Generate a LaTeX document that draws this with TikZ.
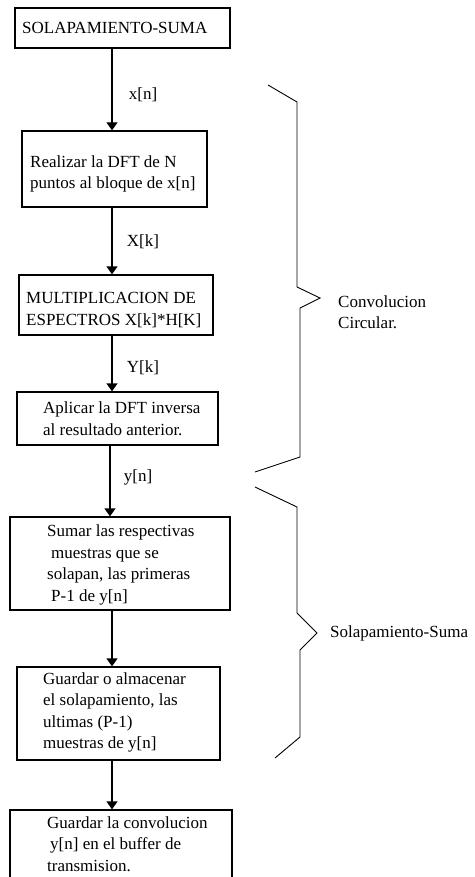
\documentclass[tikz,border=0pt]{standalone}
\usepackage{fontspec}
\setmainfont{Liberation Serif}
\usetikzlibrary{arrows.meta}
\begin{document}
\begin{tikzpicture}[x=1pt,y=-1pt,
  blk/.style={draw,line width=1.3pt,inner sep=0pt},
  txt/.style={anchor=west,align=left,inner sep=0pt,font=\fontsize{17}{21.5}\selectfont},
  lbl/.style={inner sep=0pt,font=\fontsize{17}{21.5}\selectfont},
  flow/.style={line width=1.3pt,-{Triangle[width=11pt,length=8pt]}},
  brace/.style={line width=0.9pt,line join=miter}]
\useasboundingbox (0,0) rectangle (474,877);
\clip (0,0) rectangle (474,877);

% process blocks
\node[blk,minimum width=215pt,minimum height=40pt] (b1) at (122.5,28) {};
\node[blk,minimum width=185pt,minimum height=76pt] (b2) at (114.5,169) {};
\node[blk,minimum width=194pt,minimum height=60pt] (b3) at (116,305) {};
\node[blk,minimum width=201pt,minimum height=53pt] (b4) at (117.5,418.5) {};
\node[blk,minimum width=220pt,minimum height=93pt] (b5) at (120,563.5) {};
\node[blk,minimum width=203pt,minimum height=93pt] (b6) at (118.5,713.5) {};
\node[blk,minimum width=222pt,minimum height=74pt] (b7) at (121,847) {};

% block texts
\node[txt] (t1) at (22,28) {SOLAPAMIENTO-SUMA};
\node[txt] (t2) at (30,174) {Realizar la DFT de N\\puntos al bloque de x[n]};
\node[txt] (t3) at (26,310) {MULTIPLICACION DE\\ESPECTROS X[k]*H[K]};
\node[txt] (t4) at (43,418.5) {Aplicar la DFT inversa\\al resultado anterior.};
\node[txt] (t5) at (47,565) {Sumar las respectivas\\\hspace{4pt}muestras que se\\solapan, las primeras\\\hspace{4pt}P-1 de y[n]};
\node[txt] (t6) at (43,712.5) {Guardar o almacenar\\el solapamiento, las\\ultimas (P-1)\\muestras de y[n]};
\node[txt] (t7) at (47,844) {Guardar la convolucion\\\hspace{3pt}y[n] en el buffer de\\transmision.};

% flow arrows
\coordinate (ax) at (112,0);
\coordinate (ay) at (110,0);
\draw[flow] (b1.south -| ax) -- (b2.north -| ax);
\draw[flow] (b2.south -| ax) -- (b3.north -| ax);
\draw[flow] (b3.south -| ax) -- (b4.north -| ax);
\draw[flow] (b4.south -| ay) -- (b5.north -| ay);
\draw[flow] (b5.south -| ax) -- (b6.north -| ax);
\draw[flow] (b6.south -| ax) -- (b7.north -| ax);

% signal labels
\node[lbl] (l1) at (143,95) {x[n]};
\node[lbl] (l2) at (143,242) {X[k]};
\node[lbl] (l3) at (143,368) {Y[k]};
\node[lbl] (l4) at (138,477) {y[n]};

% grouping braces
\draw[brace] (268,85) -- (297,102) -- (297,287) -- (320,298) -- (300,308) -- (300,457) -- (255,472);
\draw[brace] (255,487) -- (297,507) -- (297,613) -- (317,633) -- (300,650) -- (300,737) -- (275,758);

\node[txt] (c1) at (338,312) {Convolucion\\Circular.};
\node[txt] (c2) at (330,633) {Solapamiento-Suma};
\end{tikzpicture}
\end{document}
